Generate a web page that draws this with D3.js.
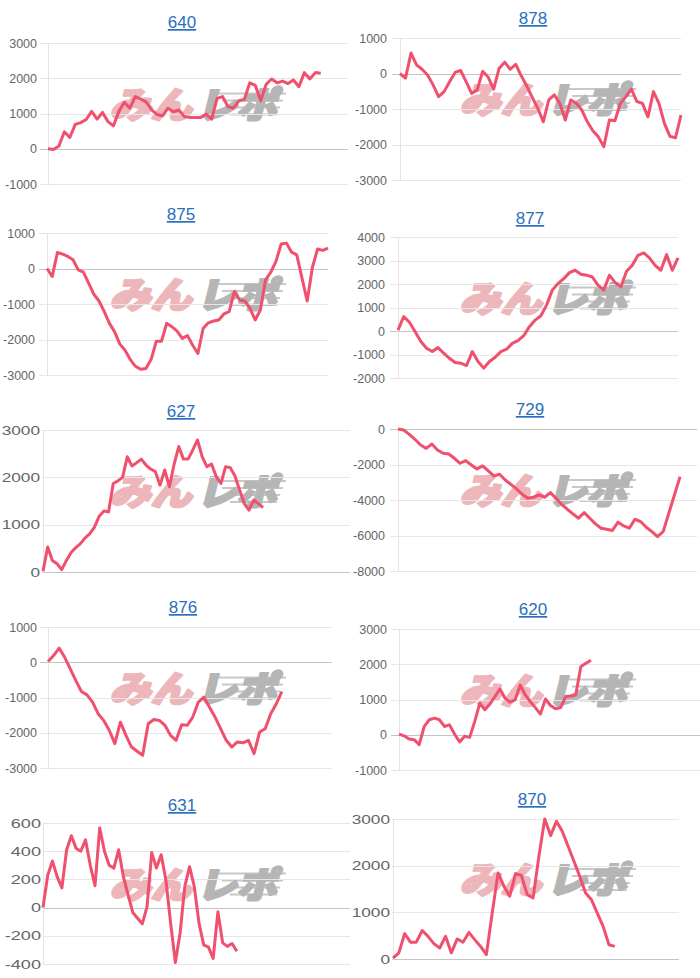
<!DOCTYPE html>
<html>
<head>
<meta charset="utf-8">
<script src="https://cdn.jsdelivr.net/npm/d3@7"></script>
<style>
  body { margin: 0; background: #fff; }
  svg { display: block; }
</style>
</head>
<body>
<div id="charts"></div>
<script>
// chart titles (machine numbers)
var titles = ["640", "878", "875", "877", "627", "729", "876", "620", "631", "870"];

// cumulative result per game
var pl640 = [0, -20, 80, 480, 320, 690, 740, 830, 1060, 840, 1030, 770, 650, 1060, 1320, 1150, 1480, 1410, 1330, 1100,
  970, 930, 1150, 1050, 1100, 910, 890, 890, 890, 980, 840, 1430, 1480, 1190, 1150, 1360, 1400, 1870, 1800, 1360,
  1830, 1980, 1870, 1920, 1850, 1950, 1760, 2160, 1980, 2160, 2140];
var pl878 = [0, -130, 575, 245, 120, -40, -320, -650, -510, -230, 30, 85, -230, -560, -465, 60, -100, -440, 150, 320,
  120, 260, -65, -350, -670, -980, -1360, -745, -600, -840, -1310, -745, -840, -1030, -1360, -1615, -1785, -2065, -1310, -1330,
  -840, -650, -440, -790, -840, -1220, -510, -840, -1410, -1770, -1810, -1170];
var pl875 = [0, -225, 450, 405, 340, 245, -40, -105, -415, -725, -915, -1215, -1545, -1785, -2130, -2300, -2565, -2755, -2840, -2820,
  -2565, -2050, -2050, -1545, -1640, -1765, -1970, -1890, -2160, -2395, -1690, -1530, -1480, -1450, -1280, -1215, -650, -885, -915, -1120,
  -1450, -1170, -320, -105, 200, 690, 715, 460, 385, -270, -915, 30, 550, 510, 575];
var pl877 = [40, 610, 370, -30, -450, -735, -875, -705, -945, -1160, -1340, -1370, -1470, -875, -1300, -1580, -1300, -1115, -875, -775,
  -525, -410, -200, 185, 465, 650, 1100, 1740, 2020, 2230, 2485, 2585, 2415, 2375, 2300, 1950, 1740, 2375, 2060, 1880,
  2540, 2795, 3220, 3320, 3110, 2795, 2585, 3250, 2585, 3110];
var pl627 = [15, 530, 245, 175, 50, 245, 410, 515, 600, 720, 810, 950, 1180, 1290, 1270, 1870, 1925, 2000, 2435, 2240,
  2310, 2385, 2260, 2175, 2120, 1835, 2155, 1800, 2275, 2650, 2385, 2385, 2580, 2790, 2435, 2225, 2280, 2015, 1870, 2225,
  2205, 2030, 1730, 1445, 1305, 1520, 1445, 1360];
var pl729 = [0, -55, -300, -580, -900, -1090, -845, -1180, -1370, -1405, -1650, -1930, -1780, -2025, -2250, -2080, -2365, -2645, -2550, -2870,
  -3115, -3375, -3675, -3900, -3845, -3715, -3845, -3585, -3900, -4240, -4520, -4785, -5030, -4710, -5030, -5345, -5590, -5645, -5720, -5250,
  -5460, -5590, -5085, -5215, -5535, -5780, -6060, -5780, -4745, -3715, -2680];
var pl876 = [20, 190, 400, 140, -190, -520, -830, -925, -1130, -1460, -1650, -1930, -2310, -1700, -2075, -2405, -2525, -2640, -1745, -1625,
  -1650, -1790, -2075, -2215, -1775, -1790, -1555, -1130, -990, -1275, -1555, -1885, -2215, -2405, -2260, -2285, -2215, -2595, -1980, -1885,
  -1460, -1180, -830];
var pl620 = [20, -30, -120, -140, -280, 235, 425, 470, 425, 235, 280, 20, -205, -45, -75, 380, 895, 710, 870, 1085,
  1300, 1035, 925, 990, 1410, 1130, 940, 770, 585, 1015, 830, 735, 770, 1085, 1100, 1130, 1930, 2025, 2115];
var pl631 = [0, 230, 330, 220, 140, 410, 510, 420, 400, 480, 300, 155, 565, 400, 300, 280, 410, 220, 90, -35,
  -75, -115, 5, 390, 280, 375, 195, -110, -390, -180, 150, 290, 150, -110, -265, -280, -360, -30, -250, -275,
  -255, -310];
var pl870 = [20, 130, 545, 360, 360, 610, 485, 330, 235, 485, 130, 430, 360, 570, 415, 270, 95, 985, 1845, 1560,
  1345, 1830, 1790, 1380, 1310, 2200, 3000, 2645, 2950, 2735, 2415, 2095, 1770, 1415, 1270, 985, 700, 305, 270];

var series = [pl640, pl878, pl875, pl877, pl627, pl729, pl876, pl620, pl631, pl870];

// number of x categories on each chart (line can stop before the end)
var xCounts = [56, 52, 55, 50, 67, 54, 52, 61, 67, 50];

// y tick labels
var yTicks = [
  [-1000, 0, 1000, 2000, 3000],
  [-3000, -2000, -1000, 0, 1000],
  [-3000, -2000, -1000, 0, 1000],
  [-2000, -1000, 0, 1000, 2000, 3000, 4000],
  [0, 1000, 2000, 3000],
  [-8000, -6000, -4000, -2000, 0],
  [-3000, -2000, -1000, 0, 1000],
  [-1000, 0, 1000, 2000, 3000],
  [-400, -200, 0, 200, 400, 600],
  [0, 1000, 2000, 3000]
];

// where each panel sits on the page
var layout = [
  { col: 0, tx: 182, ty: 22,  top: 43,  bottom: 184, ax: 48,  right: 348, lab: 37,  sx: 1 },
  { col: 1, tx: 533, ty: 18,  top: 38,  bottom: 180, ax: 400, right: 681, lab: 387, sx: 1 },
  { col: 0, tx: 181, ty: 214, top: 233, bottom: 375, ax: 47,  right: 328, lab: 35,  sx: 1 },
  { col: 1, tx: 530, ty: 218, top: 237, bottom: 378, ax: 398, right: 678, lab: 385, sx: 1 },
  { col: 0, tx: 181, ty: 411, top: 430, bottom: 572, ax: 43,  right: 352, lab: 40,  sx: 1.38 },
  { col: 1, tx: 530, ty: 409, top: 429, bottom: 571, ax: 398, right: 697, lab: 385, sx: 1 },
  { col: 0, tx: 183, ty: 607, top: 627, bottom: 768, ax: 48,  right: 332, lab: 37,  sx: 1 },
  { col: 1, tx: 533, ty: 609, top: 629, bottom: 770, ax: 399, right: 702, lab: 387, sx: 1 },
  { col: 0, tx: 182, ty: 805, top: 823, bottom: 964, ax: 43,  right: 355, lab: 41,  sx: 1.45 },
  { col: 1, tx: 532, ty: 799, top: 819, bottom: 959, ax: 393, right: 679, lab: 390, sx: 1.38 }
];

var width = 700, height = 978;
var lineColor = "#f0506d";

var svg = d3.select("#charts")
  .append("svg")
  .attr("width", width)
  .attr("height", height)
  .style("font-family", "'Liberation Sans', Arial, sans-serif");

// one clip per column so wide grids stop at the column edge
var defs = svg.append("defs");
[0, 1].forEach(function (c) {
  defs.append("clipPath")
    .attr("id", "col" + c)
    .append("rect")
    .attr("x", c * 350)
    .attr("y", 0)
    .attr("width", 350)
    .attr("height", height);
});

series.forEach(function (data, i) {
  var L = layout[i];
  var ticks = yTicks[i];
  var colX = L.col * 350;

  var g = svg.append("g").attr("clip-path", "url(#col" + L.col + ")");

  var x = d3.scaleLinear()
    .domain([0, xCounts[i] - 1])
    .range([L.ax, L.right]);

  var y = d3.scaleLinear()
    .domain([d3.min(ticks), d3.max(ticks)])
    .range([L.bottom, L.top]);

  // title, blue underlined link
  svg.append("text")
    .attr("x", L.tx)
    .attr("y", L.ty + 6)
    .attr("text-anchor", "middle")
    .attr("text-decoration", "underline")
    .style("font-size", "17px")
    .style("fill", "#2a6fbd")
    .text(titles[i]);

  // watermark
  var wm = g.append("g")
    .attr("transform", "translate(" + (colX + 198) + "," + ((L.top + L.bottom) / 2 - 9) + ")");
  [-11, -4, 3, 10].forEach(function (dy, k) {
    wm.append("line")
      .attr("x1", 20 + k * 4).attr("x2", 88 - k * 3)
      .attr("y1", dy).attr("y2", dy)
      .attr("stroke", "#c8c8c8")
      .attr("stroke-width", 2);
  });
  wm.append("text")
    .attr("x", -3)
    .attr("y", 13)
    .attr("text-anchor", "end")
    .attr("textLength", 82)
    .attr("lengthAdjust", "spacingAndGlyphs")
    .attr("transform", "skewX(-14)")
    .style("font-family", "'Noto Sans CJK JP', sans-serif")
    .style("font-weight", 900)
    .style("font-size", "36px")
    .style("fill", "#ecb6ba")
    .style("stroke", "#ecb6ba")
    .style("stroke-width", 2.5)
    .style("stroke-linejoin", "round")
    .text("みん");
  wm.append("text")
    .attr("x", 2)
    .attr("y", 13)
    .attr("textLength", 80)
    .attr("lengthAdjust", "spacingAndGlyphs")
    .attr("transform", "skewX(-14)")
    .style("font-family", "'Noto Sans CJK JP', sans-serif")
    .style("font-weight", 900)
    .style("font-size", "36px")
    .style("fill", "#b5b5b5")
    .style("stroke", "#b5b5b5")
    .style("stroke-width", 2.5)
    .style("stroke-linejoin", "round")
    .text("レポ");

  // horizontal grid lines + tick marks
  var tickStart = Math.max(L.lab + 2, L.ax - 8);
  g.selectAll(".grid" + i)
    .data(ticks)
    .enter()
    .append("line")
    .attr("x1", tickStart)
    .attr("x2", L.right)
    .attr("y1", function (d) { return Math.round(y(d)) + 0.5; })
    .attr("y2", function (d) { return Math.round(y(d)) + 0.5; })
    .attr("stroke", function (d) { return d === 0 ? "#c4c4c4" : "#e6e6e6"; })
    .attr("stroke-width", 1);

  // left axis line
  g.append("line")
    .attr("x1", Math.round(L.ax) + 0.5)
    .attr("x2", Math.round(L.ax) + 0.5)
    .attr("y1", L.top)
    .attr("y2", L.bottom + 1)
    .attr("stroke", "#e3e3e3");

  // y tick labels (some charts are stretched sideways)
  svg.selectAll(".lab" + i)
    .data(ticks)
    .enter()
    .append("text")
    .attr("text-anchor", "end")
    .attr("transform", function (d) {
      return "translate(" + L.lab + "," + (y(d) + 4.5) + ") scale(" + L.sx + ",1)";
    })
    .style("font-size", "12.5px")
    .style("fill", "#666")
    .text(function (d) { return d; });

  // the line
  var line = d3.line()
    .x(function (d, k) { return x(k); })
    .y(function (d) { return y(d); });

  g.append("path")
    .datum(data)
    .attr("fill", "none")
    .attr("stroke", lineColor)
    .attr("stroke-width", 3)
    .attr("stroke-linejoin", "round")
    .attr("d", line);
});
</script>
</body>
</html>
